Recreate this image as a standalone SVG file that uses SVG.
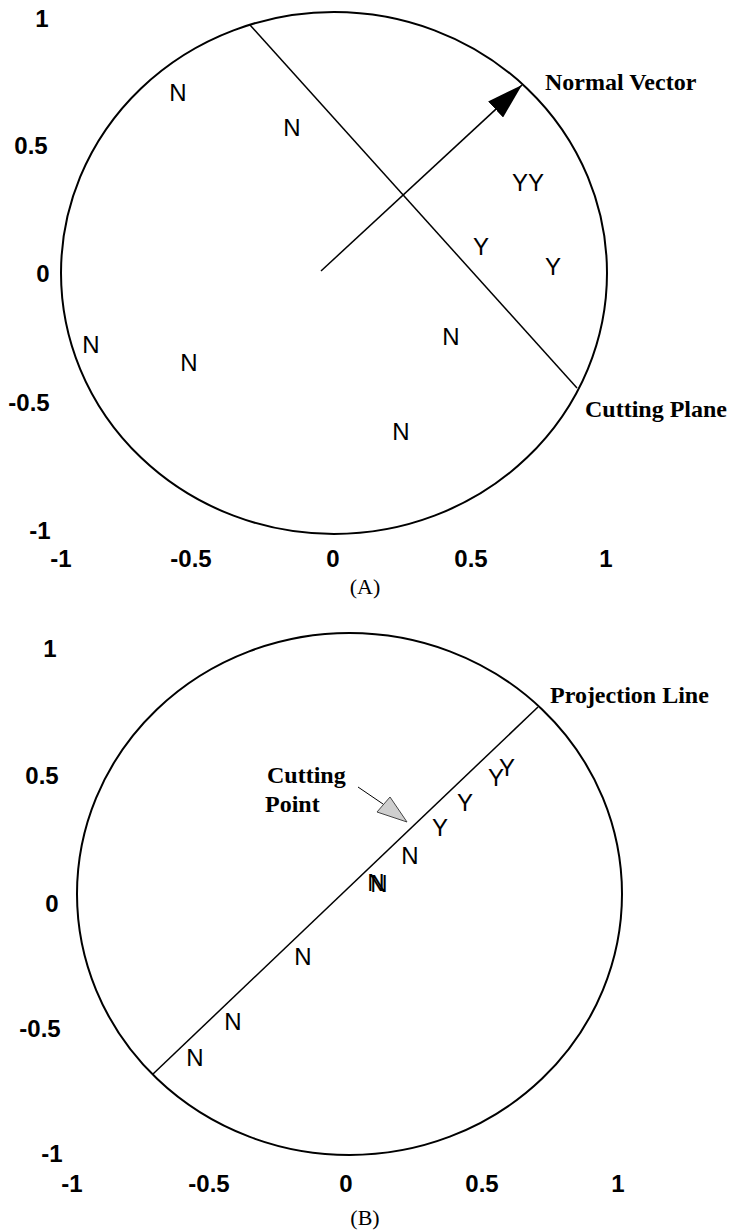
<svg xmlns="http://www.w3.org/2000/svg" width="731" height="1232" viewBox="0 0 731 1232">
<style>
.ax{font-family:"Liberation Sans",Arial,sans-serif;font-weight:bold;font-size:24px;text-anchor:middle;fill:#000}
.pt{font-family:"Liberation Sans",Arial,sans-serif;font-size:24px;text-anchor:middle;fill:#000}
.lbl{font-family:"Liberation Serif","Times New Roman",serif;font-weight:bold;font-size:24px;fill:#000}
.cap{font-family:"Liberation Serif","Times New Roman",serif;font-size:22px;text-anchor:middle;fill:#000}
.frame{fill:none;stroke:#000;stroke-width:2}
.conn{fill:none;stroke:#000;stroke-width:1.5}
.thin{fill:none;stroke:#000;stroke-width:1}
</style>
<defs>
<marker id="head" viewBox="0 0 36 22" refX="36" refY="11" markerWidth="36" markerHeight="22" markerUnits="userSpaceOnUse" orient="auto">
<path d="M0,0 L36,11 L0,22 z" fill="#000"/>
</marker>
</defs>
<rect width="731" height="1232" fill="#fff"/>

<!-- Panel A -->
<g id="panel-a">
<g id="a-circle"><ellipse class="frame" cx="334" cy="273" rx="273" ry="261"/></g>
<g id="a-yaxis">
<text class="ax" x="42" y="27">1</text>
<text class="ax" x="31" y="154">0.5</text>
<text class="ax" x="43" y="282">0</text>
<text class="ax" x="29" y="411">-0.5</text>
<text class="ax" x="40" y="539">-1</text>
</g>
<g id="a-xaxis">
<text class="ax" x="61" y="567">-1</text>
<text class="ax" x="191" y="567">-0.5</text>
<text class="ax" x="333" y="567">0</text>
<text class="ax" x="471" y="567">0.5</text>
<text class="ax" x="606" y="567">1</text>
</g>
<g id="a-points">
<text class="pt" x="178" y="101">N</text>
<text class="pt" x="292" y="136">N</text>
<text class="pt" x="528" y="191">YY</text>
<text class="pt" x="481" y="255">Y</text>
<text class="pt" x="553" y="275">Y</text>
<text class="pt" x="91" y="353">N</text>
<text class="pt" x="189" y="371">N</text>
<text class="pt" x="451" y="345">N</text>
<text class="pt" x="401" y="440">N</text>
</g>
<g id="a-normal-label"><text class="lbl" x="545" y="90">Normal Vector</text></g>
<g id="a-plane-label"><text class="lbl" x="585" y="417">Cutting Plane</text></g>
<g id="a-caption"><text class="cap" x="365" y="594">(A)</text></g>
</g>

<!-- Panel B -->
<g id="panel-b">
<g id="b-circle"><ellipse class="frame" cx="349.5" cy="894" rx="272.5" ry="261"/></g>
<g id="b-yaxis">
<text class="ax" x="50" y="657">1</text>
<text class="ax" x="42" y="784">0.5</text>
<text class="ax" x="52" y="912">0</text>
<text class="ax" x="40" y="1037">-0.5</text>
<text class="ax" x="52" y="1162">-1</text>
</g>
<g id="b-xaxis">
<text class="ax" x="72" y="1192">-1</text>
<text class="ax" x="209" y="1192">-0.5</text>
<text class="ax" x="346" y="1192">0</text>
<text class="ax" x="482" y="1192">0.5</text>
<text class="ax" x="618" y="1192">1</text>
</g>
<g id="b-points">
<text class="pt" x="496" y="786">Y</text>
<text class="pt" x="507" y="776">Y</text>
<text class="pt" x="465" y="811">Y</text>
<text class="pt" x="440" y="836">Y</text>
<text class="pt" x="410" y="864">N</text>
<text class="pt" x="376" y="891">N</text>
<text class="pt" x="379" y="892">N</text>
<text class="pt" x="303" y="965">N</text>
<text class="pt" x="233" y="1030">N</text>
<text class="pt" x="195" y="1066">N</text>
</g>
<g id="b-projection-label"><text class="lbl" x="550" y="703">Projection Line</text></g>
<g id="b-cutting-label"><text class="lbl" x="267" y="783">Cutting</text><text class="lbl" x="265" y="812">Point</text></g>
<g id="b-cutting-marker"><polygon points="377,812 390,797 407,822" fill="#cfcfcf" stroke="#444" stroke-width="1"/></g>
<g id="b-caption"><text class="cap" x="365" y="1225">(B)</text></g>
</g>

<!-- Connectors -->
<g id="connectors">
<line id="cutting-plane" class="conn" x1="250" y1="25" x2="577" y2="388"/>
<line id="normal-vector" class="conn" x1="321" y1="271" x2="522" y2="85" marker-end="url(#head)"/>
<line id="projection-line" class="conn" x1="153" y1="1074" x2="538" y2="707"/>
<line id="cutting-point-pointer" class="thin" x1="358" y1="787" x2="383" y2="804"/>
</g>
</svg>
